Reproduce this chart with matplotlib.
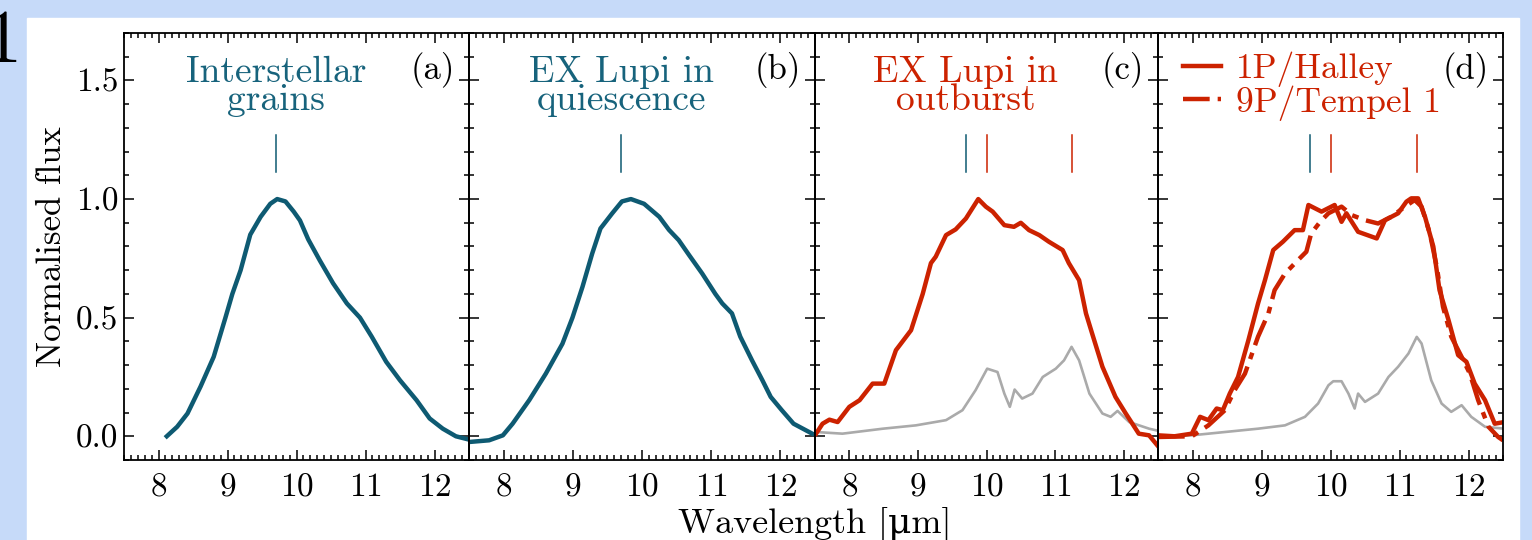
import matplotlib
matplotlib.use("Agg")
import matplotlib.pyplot as plt
from matplotlib.patches import Rectangle
from matplotlib.lines import Line2D
from matplotlib.ticker import MultipleLocator, FormatStrFormatter

plt.rcParams['font.family'] = ['cmr10', 'DejaVu Serif']
plt.rcParams['mathtext.fontset'] = 'cm'
plt.rcParams['axes.formatter.use_mathtext'] = True

# PANEL (a) : INTERSTELLAR GRAINS
ism_x = [8.12, 8.27, 8.42, 8.61, 8.80, 8.97, 9.07, 9.19, 9.33, 9.48, 9.62, 9.72, 9.84, 9.96,
         10.05, 10.17, 10.34, 10.53, 10.73, 10.92, 11.09, 11.30, 11.50, 11.74, 11.93, 12.12,
         12.31, 12.50]
ism_y = [0.0, 0.04, 0.096, 0.21, 0.335, 0.50, 0.60, 0.70, 0.85, 0.925, 0.98, 1.0, 0.99, 0.947,
         0.91, 0.83, 0.74, 0.645, 0.56, 0.50, 0.42, 0.314, 0.236, 0.152, 0.075, 0.032,
         0.0, -0.014]

# PANEL (b) : EX LUPI QUIESCENCE
qui_x = [7.505, 7.79, 7.99, 8.13, 8.37, 8.61, 8.85, 8.995, 9.14, 9.28, 9.40, 9.57, 9.71, 9.84,
         10.03, 10.25, 10.39, 10.53, 10.68, 10.87, 11.06, 11.16, 11.30, 11.42, 11.59, 11.74,
         11.86, 12.02, 12.19, 12.46]
qui_y = [-0.024, -0.017, 0.004, 0.053, 0.152, 0.264, 0.39, 0.50, 0.63, 0.77, 0.876, 0.94, 0.99,
         1.0, 0.98, 0.925, 0.87, 0.827, 0.764, 0.686, 0.60, 0.56, 0.518, 0.42, 0.32, 0.236,
         0.166, 0.11, 0.053, 0.011]

# PANEL (c) : EX LUPI OUTBURST
out_x = [7.515, 7.61, 7.71, 7.83, 8.0, 8.15, 8.34, 8.51, 8.68, 8.90, 9.07, 9.19, 9.26, 9.41,
         9.55, 9.70, 9.88, 9.99, 10.09, 10.26, 10.40, 10.50, 10.62, 10.77, 10.91, 11.11,
         11.20, 11.35, 11.45, 11.54, 11.69, 11.88, 12.03, 12.22, 12.37, 12.51]
out_y = [0.011, 0.053, 0.07, 0.06, 0.124, 0.152, 0.222, 0.222, 0.363, 0.447, 0.60, 0.73,
         0.757, 0.848, 0.872, 0.918, 1.0, 0.968, 0.947, 0.89, 0.883, 0.90, 0.869, 0.848,
         0.82, 0.785, 0.73, 0.658, 0.518, 0.433, 0.293, 0.166, 0.096, 0.011, 0.004, -0.045]
outref_x = [7.515, 7.90, 8.49, 8.97, 9.41, 9.65, 9.84, 10.01, 10.16, 10.26, 10.34, 10.41,
            10.52, 10.67, 10.82, 11.01, 11.13, 11.24, 11.35, 11.50, 11.69, 11.81, 11.91,
            12.08, 12.37, 12.52]
outref_y = [0.018, 0.011, 0.032, 0.046, 0.068, 0.11, 0.194, 0.285, 0.271, 0.18, 0.124, 0.197,
            0.159, 0.18, 0.25, 0.285, 0.32, 0.377, 0.32, 0.18, 0.096, 0.082, 0.107, 0.06,
            0.032, 0.022]

# PANEL (d) : COMETS
hal_x = [7.50, 7.74, 7.99, 8.11, 8.23, 8.35, 8.44, 8.54, 8.66, 8.81, 8.95, 9.05, 9.17, 9.31,
         9.48, 9.60, 9.68, 9.87, 10.06, 10.16, 10.23, 10.40, 10.67, 10.79, 10.98, 11.10,
         11.17, 11.27, 11.37, 11.49, 11.58, 11.71, 11.85, 11.97, 12.09, 12.24, 12.38, 12.52]
hal_y = [0.004, 0.0, 0.011, 0.082, 0.068, 0.117, 0.11, 0.18, 0.25, 0.405, 0.56, 0.658, 0.785,
         0.82, 0.869, 0.869, 0.975, 0.947, 0.975, 0.904, 0.94, 0.862, 0.834, 0.911, 0.94,
         0.989, 1.003, 1.003, 0.925, 0.80, 0.616, 0.49, 0.342, 0.314, 0.222, 0.152, 0.053,
         0.06]
tem_x = [7.50, 7.99, 8.23, 8.47, 8.61, 8.76, 8.95, 9.10, 9.19, 9.34, 9.53, 9.65, 9.72, 9.85,
         9.97, 10.16, 10.31, 10.50, 10.69, 10.88, 11.08, 11.22, 11.32, 11.44, 11.54, 11.63,
         11.75, 11.90, 12.02, 12.14, 12.29, 12.43, 12.50]
tem_y = [-0.003, 0.0, 0.046, 0.11, 0.194, 0.264, 0.42, 0.518, 0.616, 0.686, 0.743, 0.778,
         0.855, 0.904, 0.94, 0.968, 0.932, 0.911, 0.897, 0.925, 0.968, 0.996, 0.968, 0.855,
         0.714, 0.546, 0.42, 0.335, 0.264, 0.152, 0.04, -0.003, -0.017]
comref_x = [7.50, 7.99, 8.47, 8.95, 9.34, 9.63, 9.82, 9.97, 10.04, 10.16, 10.26, 10.35, 10.40,
            10.50, 10.69, 10.84, 10.98, 11.13, 11.25, 11.32, 11.46, 11.61, 11.75, 11.90,
            12.04, 12.24, 12.52]
comref_y = [0.0, 0.004, 0.018, 0.032, 0.046, 0.082, 0.138, 0.215, 0.232, 0.232, 0.18, 0.117,
            0.18, 0.145, 0.18, 0.25, 0.293, 0.349, 0.419, 0.391, 0.236, 0.138, 0.103, 0.131,
            0.082, 0.04, 0.032]

titles = ['Interstellar\ngrains', 'EX Lupi in\nquiescence', 'EX Lupi in\noutburst', '']
labels = ['(a)', '(b)', '(c)', '(d)']
marks = [[9.7], [9.7], [9.7, 10.0, 11.25], [9.7, 10.0, 11.25]]
xtick_vals = [8, 9, 10, 11, 12]
ytick_vals = [0.0, 0.5, 1.0, 1.5]

teal = '#0e5a72'
red = '#cc2200'
grey = '#aaaaaa'

W, H = 1532, 540
fig = plt.figure(figsize=(W / 100, H / 100), dpi=100, facecolor='#c6daf9')
fig.patches.append(Rectangle((27 / W, 0), (1519 - 27) / W, (H - 18) / H,
                             transform=fig.transFigure, color='white', zorder=-1))
# cut off slide number at the far left
fig.text(-17 / W, 1 - 62 / H, '1', fontsize=55, ha='left', va='baseline')

lefts = [124, 469, 815, 1158]
rights = [469, 815, 1158, 1503]
top, bot = 33, 460

axes = []
for i in range(4):
    ax = fig.add_axes([lefts[i] / W, 1 - bot / H, (rights[i] - lefts[i]) / W, (bot - top) / H])
    ax.patch.set_alpha(0)
    ax.set_xlim(7.5, 12.5)
    ax.set_ylim(-0.1, 1.7)
    ax.set_xticks(xtick_vals)
    ax.set_yticks(ytick_vals)
    ax.xaxis.set_minor_locator(MultipleLocator(0.1))
    ax.yaxis.set_minor_locator(MultipleLocator(0.1))
    ax.yaxis.set_major_formatter(FormatStrFormatter('%.1f'))
    ax.tick_params(which='both', direction='in', top=True, right=True, width=1.1)
    ax.tick_params(which='major', length=7, labelsize=24, pad=9)
    ax.tick_params(axis='y', which='major', pad=4)
    ax.tick_params(which='minor', length=3.5)
    if i > 0:
        ax.tick_params(labelleft=False)
    for s in ax.spines.values():
        s.set_linewidth(1.3)
    ax.text(0.96, 0.955, labels[i], transform=ax.transAxes, ha='right', va='top', fontsize=25)
    if titles[i]:
        ax.text(9.7, 1.605, titles[i], ha='center', va='top', fontsize=27, linespacing=0.82,
                color=red if i == 2 else '#17637c')
    for j, m in enumerate(marks[i]):
        ax.plot([m, m], [1.115, 1.27], color=teal if j == 0 else red, lw=1.1)
    axes.append(ax)

axes[0].plot(ism_x, ism_y, color=teal, lw=3.2)
axes[1].plot(qui_x, qui_y, color=teal, lw=3.2)
axes[2].plot(outref_x, outref_y, color=grey, lw=1.9)
axes[2].plot(out_x, out_y, color=red, lw=3.2)
axes[3].plot(comref_x, comref_y, color=grey, lw=1.9)
axes[3].plot(tem_x, tem_y, color=red, lw=3.2, ls=(0, (6, 1.8, 1.5, 1.8)))
axes[3].plot(hal_x, hal_y, color=red, lw=3.2)

hands = [Line2D([], [], color=red, lw=3.2),
         Line2D([], [], color=red, lw=3.2, ls=(0, (6, 1.8, 1.5, 1.8)))]
axes[3].legend(hands, ['1P/Halley', '9P/Tempel 1'], loc='upper left', frameon=False,
               fontsize=25.5, labelcolor=red, handlelength=1.1, handletextpad=0.4,
               labelspacing=-0.05, borderaxespad=0.0, bbox_to_anchor=(0.03, 0.99))

axes[0].set_ylabel('Normalised flux', fontsize=25, labelpad=6)
fig.text(815 / W, 1 - 525 / H, 'Wavelength [μm]', fontsize=26, ha='center', va='center')

fig.savefig('out.png', dpi=100, facecolor=fig.get_facecolor())
